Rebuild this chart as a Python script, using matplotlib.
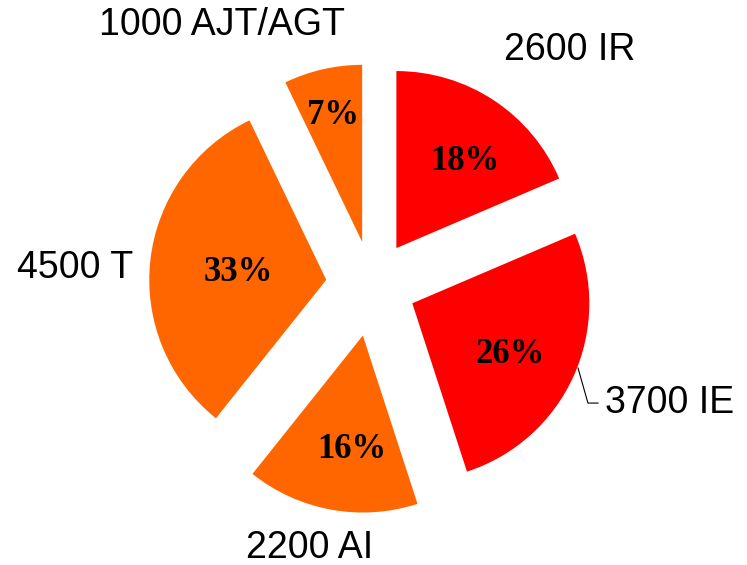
import matplotlib
matplotlib.use('Agg')
import matplotlib.pyplot as plt

names = ['2600 IR', '3700 IE', '2200 AI', '4500 T', '1000 AJT/AGT']
values = [2600, 3700, 2200, 4500, 1000]
pct_labels = ['18%', '26%', '16%', '33%', '7%']
colors = ['#FF0000', '#FF0000', '#FF6600', '#FF6600', '#FF6600']

# placement of the outer and percent labels (data units, radius = 1)
name_pos = [(1.119, 1.328), (1.316, -0.667), (-0.350, -1.486), (-1.678, 0.096), (-0.847, 1.469)]
name_ha = ['center', 'left', 'center', 'center', 'center']
pct_pos = [(0.525, 0.695), (0.780, -0.395), (-0.113, -0.932), (-0.757, 0.073), (-0.220, 0.960)]

fig = plt.figure(figsize=(7.47, 5.65), dpi=100)
ax = fig.add_axes([0, 0, 1, 1])

wedges, texts = ax.pie(values, colors=colors, explode=[0.25, 0.25, 0.29, 0.26, 0.25],
                       radius=1, startangle=90, counterclock=False,
                       wedgeprops=dict(linewidth=0))

for (x, y), ha, name in zip(name_pos, name_ha, names):
    ax.text(x, y, name, ha=ha, va='center', fontsize=27,
            family='Liberation Sans', color='black')

for (x, y), p in zip(pct_pos, pct_labels):
    ax.text(x, y, p, ha='center', va='center', fontsize=25, fontweight='bold',
            family='Liberation Serif', color='black')

# leader line for 3700 IE
ax.plot([1.164, 1.220, 1.277], [-0.469, -0.667, -0.667], color='black', lw=0.8)

ax.set_xlim(-372 / 177, (747 - 372) / 177)
ax.set_ylim(-(565 - 285) / 177, 285 / 177)
ax.set_aspect('auto')
ax.axis('off')

fig.savefig('out.png', dpi=100)
